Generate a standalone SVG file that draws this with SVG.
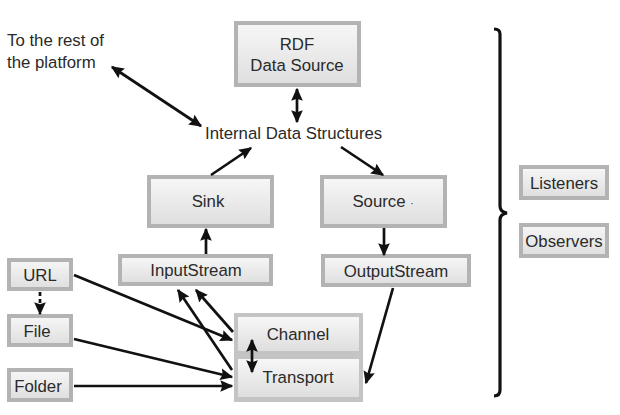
<svg xmlns="http://www.w3.org/2000/svg" width="620" height="415" viewBox="0 0 620 415">
<defs>
<linearGradient id="g" x1="0" y1="0" x2="0" y2="1">
<stop offset="0" stop-color="#f7f7f7"/>
<stop offset="1" stop-color="#dedede"/>
</linearGradient>
<marker id="ah" viewBox="0 0 10 10" refX="9" refY="5" markerWidth="4.8" markerHeight="4.8" orient="auto-start-reverse" markerUnits="strokeWidth">
<path d="M0,0.5 L10,5 L0,9.5 L1.5,5 z" fill="#111"/>
</marker>
</defs>
<style>
.box{fill:url(#g);stroke:#b3b3b3;stroke-width:4}
.t{font-family:"Liberation Sans",Arial,sans-serif;font-size:16.8px;fill:#2a2a2a;text-anchor:middle}
.tl{font-family:"Liberation Sans",Arial,sans-serif;font-size:16.8px;fill:#2a2a2a}
.c{stroke:#111;stroke-width:2.7;fill:none}
</style>
<rect width="620" height="415" fill="#fff"/>

<g id="rest">
<text class="tl" x="7" y="46">To the rest of</text>
<text class="tl" x="7" y="68">the platform</text>
</g>
<g id="rdf">
<rect class="box" x="236" y="23" width="123" height="62"/>
<text class="t" x="297" y="50">RDF</text>
<text class="t" x="297" y="71">Data Source</text>
</g>
<g id="internal">
<text class="tl" x="205" y="139">Internal Data Structures</text>
</g>
<g id="sink">
<rect class="box" x="149" y="177" width="123" height="49"/>
<text class="t" x="208" y="207">Sink</text>
</g>
<g id="source">
<rect class="box" x="322" y="177" width="123" height="49"/>
<text class="t" x="383" y="207">Source <tspan font-size="10">·</tspan></text>
</g>
<g id="inputstream">
<rect class="box" x="120" y="256" width="151" height="28"/>
<text class="t" x="196" y="276">InputStream</text>
</g>
<g id="outputstream">
<rect class="box" x="323" y="256" width="146" height="29"/>
<text class="t" x="396" y="277">OutputStream</text>
</g>
<g id="url">
<rect class="box" x="9" y="260" width="62" height="29"/>
<text class="t" x="40" y="281">URL</text>
</g>
<g id="file">
<rect class="box" x="9" y="316" width="62" height="29"/>
<text class="t" x="37" y="337">File</text>
</g>
<g id="folder">
<rect class="box" x="9" y="370" width="62" height="30"/>
<text class="t" x="38" y="392">Folder</text>
</g>
<g id="channel-transport">
<rect x="234" y="313" width="129" height="89" fill="#c4c4c4"/>
<rect x="238" y="317" width="121" height="34" fill="url(#g)"/>
<rect x="238" y="359" width="121" height="38" fill="url(#g)"/>
<text class="t" x="298" y="340">Channel</text>
<text class="t" x="298" y="383">Transport</text>
</g>
<g id="listeners">
<rect class="box" x="521" y="167" width="86" height="31"/>
<text class="t" x="564" y="189">Listeners</text>
</g>
<g id="observers">
<rect class="box" x="521" y="225" width="86" height="31"/>
<text class="t" x="564" y="247">Observers</text>
</g>

<g id="connectors">
<line class="c" x1="112" y1="67" x2="201" y2="126" marker-start="url(#ah)" marker-end="url(#ah)"/>
<line class="c" x1="297" y1="89" x2="297" y2="122" marker-start="url(#ah)" marker-end="url(#ah)"/>
<line class="c" x1="211" y1="175" x2="251" y2="148" marker-end="url(#ah)"/>
<line class="c" x1="341" y1="147" x2="383" y2="175" marker-end="url(#ah)"/>
<line class="c" x1="206" y1="254" x2="206" y2="229" marker-end="url(#ah)"/>
<line class="c" x1="384" y1="228" x2="384" y2="255" marker-end="url(#ah)"/>
<line class="c" x1="40" y1="292" x2="40" y2="314" stroke-dasharray="4,3" marker-end="url(#ah)"/>
<line class="c" x1="74" y1="275" x2="232" y2="340" marker-end="url(#ah)"/>
<line class="c" x1="74" y1="339" x2="232" y2="377" marker-end="url(#ah)"/>
<line class="c" x1="74" y1="386" x2="232" y2="386" marker-end="url(#ah)"/>
<line class="c" x1="233" y1="332" x2="196" y2="290" marker-end="url(#ah)"/>
<line class="c" x1="232" y1="370" x2="178" y2="290" marker-end="url(#ah)"/>
<line class="c" x1="393" y1="288" x2="366" y2="383" marker-end="url(#ah)"/>
<line class="c" x1="252" y1="340" x2="252" y2="372" marker-start="url(#ah)" marker-end="url(#ah)"/>
<path d="M494,29 Q500,29 500,34 L500,206 Q500,212 507,213 Q500,214 500,220 L500,390 Q500,396 494,396" fill="none" stroke="#111" stroke-width="3.2"/>
</g>
</svg>
